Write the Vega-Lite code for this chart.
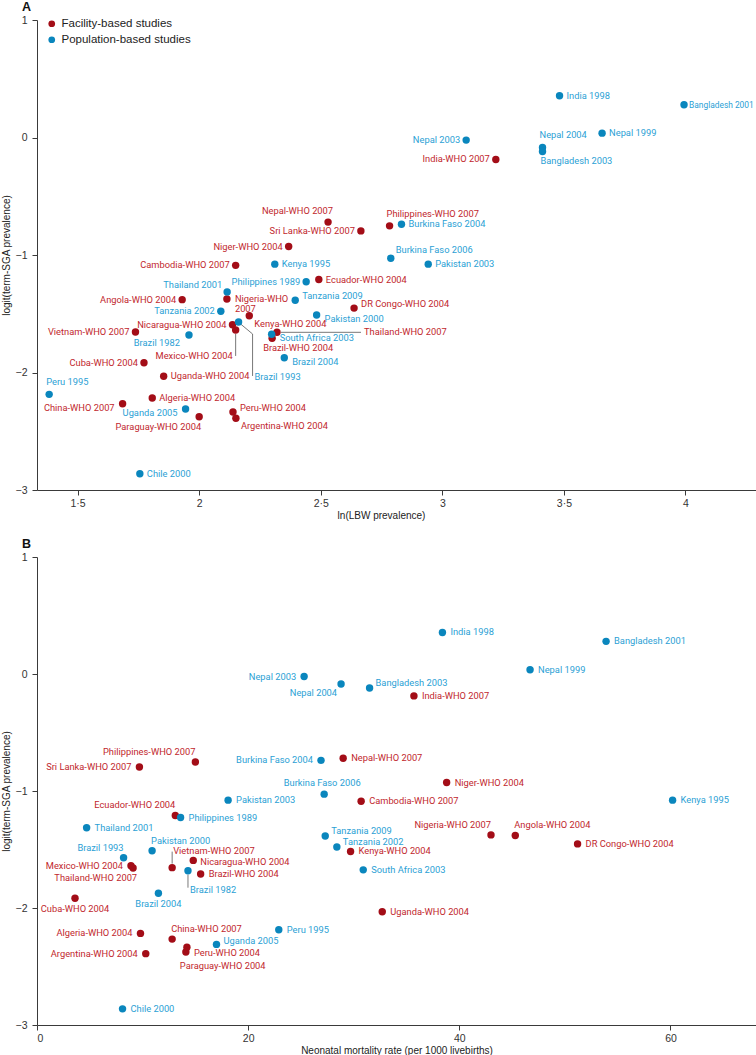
{
  "$schema": "https://vega.github.io/schema/vega-lite/v6.json",
  "padding": {"left": 1, "top": 0, "right": 0, "bottom": 0},
  "background": "white",
  "datasets": {
    "studies": [
      {"name": "Nepal-WHO 2007", "type": "Facility-based studies", "lbw": 2.53, "nmr": 29.0, "sga": -0.72},
      {"name": "Sri Lanka-WHO 2007", "type": "Facility-based studies", "lbw": 2.665, "nmr": 9.7, "sga": -0.795},
      {"name": "Niger-WHO 2004", "type": "Facility-based studies", "lbw": 2.368, "nmr": 38.8, "sga": -0.928},
      {"name": "India-WHO 2007", "type": "Facility-based studies", "lbw": 3.22, "nmr": 35.7, "sga": -0.187},
      {"name": "Philippines-WHO 2007", "type": "Facility-based studies", "lbw": 2.783, "nmr": 15.0, "sga": -0.752},
      {"name": "Cambodia-WHO 2007", "type": "Facility-based studies", "lbw": 2.15, "nmr": 30.7, "sga": -1.088},
      {"name": "Ecuador-WHO 2004", "type": "Facility-based studies", "lbw": 2.492, "nmr": 13.1, "sga": -1.209},
      {"name": "Nigeria-WHO 2007", "type": "Facility-based studies", "lbw": 2.114, "nmr": 43.0, "sga": -1.375},
      {"name": "Angola-WHO 2004", "type": "Facility-based studies", "lbw": 1.93, "nmr": 45.3, "sga": -1.38},
      {"name": "DR Congo-WHO 2004", "type": "Facility-based studies", "lbw": 2.637, "nmr": 51.2, "sga": -1.452},
      {"name": "Kenya-WHO 2004", "type": "Facility-based studies", "lbw": 2.206, "nmr": 29.7, "sga": -1.517},
      {"name": "Nicaragua-WHO 2004", "type": "Facility-based studies", "lbw": 2.137, "nmr": 14.8, "sga": -1.593},
      {"name": "Mexico-WHO 2004", "type": "Facility-based studies", "lbw": 2.15, "nmr": 8.9, "sga": -1.638},
      {"name": "Vietnam-WHO 2007", "type": "Facility-based studies", "lbw": 1.738, "nmr": 12.8, "sga": -1.655},
      {"name": "Thailand-WHO 2007", "type": "Facility-based studies", "lbw": 2.32, "nmr": 9.1, "sga": -1.658},
      {"name": "Brazil-WHO 2004", "type": "Facility-based studies", "lbw": 2.3, "nmr": 15.5, "sga": -1.709},
      {"name": "Cuba-WHO 2004", "type": "Facility-based studies", "lbw": 1.773, "nmr": 3.6, "sga": -1.917},
      {"name": "Uganda-WHO 2004", "type": "Facility-based studies", "lbw": 1.854, "nmr": 32.7, "sga": -2.032},
      {"name": "Algeria-WHO 2004", "type": "Facility-based studies", "lbw": 1.807, "nmr": 9.8, "sga": -2.217},
      {"name": "China-WHO 2007", "type": "Facility-based studies", "lbw": 1.685, "nmr": 12.8, "sga": -2.266},
      {"name": "Paraguay-WHO 2004", "type": "Facility-based studies", "lbw": 2.0, "nmr": 14.1, "sga": -2.376},
      {"name": "Peru-WHO 2004", "type": "Facility-based studies", "lbw": 2.139, "nmr": 14.2, "sga": -2.336},
      {"name": "Argentina-WHO 2004", "type": "Facility-based studies", "lbw": 2.151, "nmr": 10.3, "sga": -2.39},
      {"name": "India 1998", "type": "Population-based studies", "lbw": 3.482, "nmr": 38.4, "sga": 0.355},
      {"name": "Bangladesh 2001", "type": "Population-based studies", "lbw": 3.994, "nmr": 53.9, "sga": 0.279},
      {"name": "Nepal 2003", "type": "Population-based studies", "lbw": 3.098, "nmr": 25.3, "sga": -0.022},
      {"name": "Nepal 2004", "type": "Population-based studies", "lbw": 3.412, "nmr": 28.8, "sga": -0.085},
      {"name": "Bangladesh 2003", "type": "Population-based studies", "lbw": 3.412, "nmr": 31.5, "sga": -0.119},
      {"name": "Nepal 1999", "type": "Population-based studies", "lbw": 3.657, "nmr": 46.7, "sga": 0.037},
      {"name": "Burkina Faso 2004", "type": "Population-based studies", "lbw": 2.832, "nmr": 26.9, "sga": -0.738},
      {"name": "Burkina Faso 2006", "type": "Population-based studies", "lbw": 2.788, "nmr": 27.2, "sga": -1.027},
      {"name": "Pakistan 2003", "type": "Population-based studies", "lbw": 2.942, "nmr": 18.1, "sga": -1.078},
      {"name": "Kenya 1995", "type": "Population-based studies", "lbw": 2.311, "nmr": 60.2, "sga": -1.078},
      {"name": "Philippines 1989", "type": "Population-based studies", "lbw": 2.44, "nmr": 13.6, "sga": -1.227},
      {"name": "Thailand 2001", "type": "Population-based studies", "lbw": 2.115, "nmr": 4.7, "sga": -1.314},
      {"name": "Tanzania 2009", "type": "Population-based studies", "lbw": 2.395, "nmr": 27.3, "sga": -1.385},
      {"name": "Tanzania 2002", "type": "Population-based studies", "lbw": 2.089, "nmr": 28.4, "sga": -1.479},
      {"name": "Pakistan 2000", "type": "Population-based studies", "lbw": 2.483, "nmr": 10.9, "sga": -1.51},
      {"name": "Brazil 1993", "type": "Population-based studies", "lbw": 2.162, "nmr": 8.2, "sga": -1.57},
      {"name": "Brazil 1982", "type": "Population-based studies", "lbw": 1.958, "nmr": 14.3, "sga": -1.681},
      {"name": "South Africa 2003", "type": "Population-based studies", "lbw": 2.298, "nmr": 30.9, "sga": -1.674},
      {"name": "Brazil 2004", "type": "Population-based studies", "lbw": 2.35, "nmr": 11.5, "sga": -1.874},
      {"name": "Peru 1995", "type": "Population-based studies", "lbw": 1.383, "nmr": 22.9, "sga": -2.186},
      {"name": "Uganda 2005", "type": "Population-based studies", "lbw": 1.944, "nmr": 17.0, "sga": -2.311},
      {"name": "Chile 2000", "type": "Population-based studies", "lbw": 1.756, "nmr": 8.1, "sga": -2.862}
    ]
  },
  "config": {
    "view": {"stroke": null},
    "font": "Liberation Sans",
    "axis": {"grid": false, "domainColor": "#3a3a3a", "domainWidth": 1, "tickColor": "#3a3a3a", "tickSize": 5, "labelFont": "Liberation Sans", "labelFontSize": 10.5, "labelColor": "#333", "titleFont": "Liberation Sans", "titleFontSize": 10, "titleFontWeight": "normal", "titleColor": "#222", "labelPadding": 3},
    "axisY": {"labelPadding": 5, "titlePadding": 4},
    "axisX": {"titlePadding": 2},
    "text": {"font": "Roboto", "fontSize": 9.3, "baseline": "middle"},
    "title": {"anchor": "start", "frame": "group", "fontSize": 12.5, "fontWeight": "bold", "font": "Liberation Sans", "color": "#111", "offset": 2, "baseline": "alphabetic", "dx": -15}
  },
  "spacing": 67,
  "bounds": "flush",
  "vconcat": [
    {
      "width": 719,
      "height": 470,
      "title": {"text": "A"},
      "data": {"name": "studies"},
      "encoding": {
        "x": {"field": "lbw", "type": "quantitative", "scale": {"domain": [1.333, 4.29], "nice": false, "zero": false}, "axis": {"title": "ln(LBW prevalence)", "titleX": 344, "values": [1.5, 2, 2.5, 3, 3.5, 4], "format": ".1~f", "labelExpr": "replace(datum.label, '.', '·')"}},
        "y": {"field": "sga", "type": "quantitative", "scale": {"domain": [-3, 1], "nice": false, "zero": false}, "axis": {"title": "logit(term-SGA prevalence)", "values": [-3, -2, -1, 0, 1]}}
      },
      "layer": [
        {"transform": [{"filter": {"field": "name", "equal": "Mexico-WHO 2004"}}], "mark": {"type": "rule", "yOffset": 4, "y2Offset": 26, "color": "#555", "strokeWidth": 0.8}, "encoding": {"x2": {"field": "lbw"}, "y2": {"field": "sga"}}},
        {"transform": [{"filter": {"field": "name", "equal": "Brazil 1993"}}], "mark": {"type": "rule", "xOffset": 2, "yOffset": 2, "x2Offset": 14, "y2Offset": 12, "color": "#555", "strokeWidth": 0.8}, "encoding": {"x2": {"field": "lbw"}, "y2": {"field": "sga"}}},
        {"transform": [{"filter": {"field": "name", "equal": "Brazil 1993"}}], "mark": {"type": "rule", "xOffset": 14, "yOffset": 12, "x2Offset": 14, "y2Offset": 54, "color": "#555", "strokeWidth": 0.8}, "encoding": {"x2": {"field": "lbw"}, "y2": {"field": "sga"}}},
        {"transform": [{"filter": {"field": "name", "equal": "Thailand-WHO 2007"}}], "mark": {"type": "rule", "xOffset": 4, "x2Offset": 84, "color": "#555", "strokeWidth": 0.8}, "encoding": {"x2": {"field": "lbw"}, "y2": {"field": "sga"}}},
        {
          "mark": {"type": "circle", "size": 55, "opacity": 1},
          "encoding": {
            "color": {"field": "type", "type": "nominal", "scale": {"domain": ["Facility-based studies", "Population-based studies"], "range": ["#a30d17", "#0a86bd"]},
              "legend": {"title": null, "orient": "none", "legendX": 9, "legendY": -2, "padding": 0, "labelFont": "Liberation Sans", "labelFontSize": 11.5, "labelColor": "#222", "symbolSize": 45, "symbolType": "circle", "rowPadding": 3, "labelOffset": 4}}
          }
        },
        {"transform": [{"filter": {"field": "name", "oneOf": ["India 1998", "Nepal 1999", "Burkina Faso 2004", "Pakistan 2003", "Kenya 1995", "Ecuador-WHO 2004", "Uganda-WHO 2004", "Algeria-WHO 2004", "Chile 2000"]}}], "mark": {"type": "text", "align": "left", "dx": 7, "dy": 0}, "encoding": {"text": {"field": "name"}, "color": {"condition": {"test": "datum.type === 'Facility-based studies'", "value": "#c1272d"}, "value": "#2b9fd5"}}},
        {"transform": [{"filter": {"field": "name", "oneOf": ["Bangladesh 2001"]}}], "mark": {"type": "text", "align": "left", "dx": 5, "dy": 0, "fontSize": 8.4}, "encoding": {"text": {"field": "name"}, "color": {"condition": {"test": "datum.type === 'Facility-based studies'", "value": "#c1272d"}, "value": "#2b9fd5"}}},
        {"transform": [{"filter": {"field": "name", "oneOf": ["Tanzania 2009", "Peru-WHO 2004", "DR Congo-WHO 2004"]}}], "mark": {"type": "text", "align": "left", "dx": 7, "dy": -4}, "encoding": {"text": {"field": "name"}, "color": {"condition": {"test": "datum.type === 'Facility-based studies'", "value": "#c1272d"}, "value": "#2b9fd5"}}},
        {"transform": [{"filter": {"field": "name", "oneOf": ["Pakistan 2000", "South Africa 2003", "Brazil 2004"]}}], "mark": {"type": "text", "align": "left", "dx": 8, "dy": 4}, "encoding": {"text": {"field": "name"}, "color": {"condition": {"test": "datum.type === 'Facility-based studies'", "value": "#c1272d"}, "value": "#2b9fd5"}}},
        {"transform": [{"filter": {"field": "name", "oneOf": ["Kenya-WHO 2004", "Argentina-WHO 2004"]}}], "mark": {"type": "text", "align": "left", "dx": 5, "dy": 8}, "encoding": {"text": {"field": "name"}, "color": {"condition": {"test": "datum.type === 'Facility-based studies'", "value": "#c1272d"}, "value": "#2b9fd5"}}},
        {"transform": [{"filter": {"field": "name", "oneOf": ["Nepal 2003", "India-WHO 2007", "Sri Lanka-WHO 2007", "Niger-WHO 2004", "Cambodia-WHO 2007", "Philippines 1989", "Angola-WHO 2004", "Tanzania 2002", "Nicaragua-WHO 2004", "Vietnam-WHO 2007", "Cuba-WHO 2004"]}}], "mark": {"type": "text", "align": "right", "dx": -6, "dy": 0}, "encoding": {"text": {"field": "name"}, "color": {"condition": {"test": "datum.type === 'Facility-based studies'", "value": "#c1272d"}, "value": "#2b9fd5"}}},
        {"transform": [{"filter": {"field": "name", "oneOf": ["China-WHO 2007", "Uganda 2005"]}}], "mark": {"type": "text", "align": "right", "dx": -8, "dy": 4}, "encoding": {"text": {"field": "name"}, "color": {"condition": {"test": "datum.type === 'Facility-based studies'", "value": "#c1272d"}, "value": "#2b9fd5"}}},
        {"transform": [{"filter": {"field": "name", "oneOf": ["Brazil 1982"]}}], "mark": {"type": "text", "align": "right", "dx": -9, "dy": 8}, "encoding": {"text": {"field": "name"}, "color": {"condition": {"test": "datum.type === 'Facility-based studies'", "value": "#c1272d"}, "value": "#2b9fd5"}}},
        {"transform": [{"filter": {"field": "name", "oneOf": ["Thailand 2001"]}}], "mark": {"type": "text", "align": "right", "dx": -5, "dy": -7}, "encoding": {"text": {"field": "name"}, "color": {"condition": {"test": "datum.type === 'Facility-based studies'", "value": "#c1272d"}, "value": "#2b9fd5"}}},
        {"transform": [{"filter": {"field": "name", "oneOf": ["Philippines-WHO 2007", "Nepal 2004", "Peru 1995"]}}], "mark": {"type": "text", "align": "left", "dx": -3, "dy": -12}, "encoding": {"text": {"field": "name"}, "color": {"condition": {"test": "datum.type === 'Facility-based studies'", "value": "#c1272d"}, "value": "#2b9fd5"}}},
        {"transform": [{"filter": {"field": "name", "oneOf": ["Burkina Faso 2006"]}}], "mark": {"type": "text", "align": "left", "dx": 5, "dy": -8}, "encoding": {"text": {"field": "name"}, "color": {"condition": {"test": "datum.type === 'Facility-based studies'", "value": "#c1272d"}, "value": "#2b9fd5"}}},
        {"transform": [{"filter": {"field": "name", "oneOf": ["Nepal-WHO 2007"]}}], "mark": {"type": "text", "align": "right", "dx": 5, "dy": -11}, "encoding": {"text": {"field": "name"}, "color": {"condition": {"test": "datum.type === 'Facility-based studies'", "value": "#c1272d"}, "value": "#2b9fd5"}}},
        {"transform": [{"filter": {"field": "name", "oneOf": ["Bangladesh 2003"]}}], "mark": {"type": "text", "align": "left", "dx": -2, "dy": 10}, "encoding": {"text": {"field": "name"}, "color": {"condition": {"test": "datum.type === 'Facility-based studies'", "value": "#c1272d"}, "value": "#2b9fd5"}}},
        {"transform": [{"filter": {"field": "name", "oneOf": ["Brazil-WHO 2004"]}}], "mark": {"type": "text", "align": "left", "dx": -9, "dy": 10}, "encoding": {"text": {"field": "name"}, "color": {"condition": {"test": "datum.type === 'Facility-based studies'", "value": "#c1272d"}, "value": "#2b9fd5"}}},
        {"transform": [{"filter": {"field": "name", "oneOf": ["Paraguay-WHO 2004"]}}], "mark": {"type": "text", "align": "right", "dx": 2, "dy": 10}, "encoding": {"text": {"field": "name"}, "color": {"condition": {"test": "datum.type === 'Facility-based studies'", "value": "#c1272d"}, "value": "#2b9fd5"}}},
        {"transform": [{"filter": {"field": "name", "oneOf": ["Nigeria-WHO 2007"]}}], "mark": {"type": "text", "align": "left", "dx": 8, "dy": 0, "lineBreak": " ", "lineHeight": 10}, "encoding": {"text": {"field": "name"}, "color": {"condition": {"test": "datum.type === 'Facility-based studies'", "value": "#c1272d"}, "value": "#2b9fd5"}}},
        {"transform": [{"filter": {"field": "name", "oneOf": ["Mexico-WHO 2004"]}}], "mark": {"type": "text", "align": "right", "dx": -3, "dy": 26}, "encoding": {"text": {"field": "name"}, "color": {"condition": {"test": "datum.type === 'Facility-based studies'", "value": "#c1272d"}, "value": "#2b9fd5"}}},
        {"transform": [{"filter": {"field": "name", "oneOf": ["Brazil 1993"]}}], "mark": {"type": "text", "align": "left", "dx": 16, "dy": 55}, "encoding": {"text": {"field": "name"}, "color": {"condition": {"test": "datum.type === 'Facility-based studies'", "value": "#c1272d"}, "value": "#2b9fd5"}}},
        {"transform": [{"filter": {"field": "name", "oneOf": ["Thailand-WHO 2007"]}}], "mark": {"type": "text", "align": "left", "dx": 87, "dy": 0}, "encoding": {"text": {"field": "name"}, "color": {"condition": {"test": "datum.type === 'Facility-based studies'", "value": "#c1272d"}, "value": "#2b9fd5"}}}
      ]
    },
    {
      "width": 719,
      "height": 468,
      "title": {"text": "B"},
      "data": {"name": "studies"},
      "encoding": {
        "x": {"field": "nmr", "type": "quantitative", "scale": {"domain": [0, 68.1], "nice": false, "zero": false}, "axis": {"title": "Neonatal mortality rate (per 1000 livebirths)", "values": [0, 20, 40, 60]}},
        "y": {"field": "sga", "type": "quantitative", "scale": {"domain": [-3, 1], "nice": false, "zero": false}, "axis": {"title": "logit(term-SGA prevalence)", "values": [-3, -2, -1, 0, 1]}}
      },
      "layer": [
        {"transform": [{"filter": {"field": "name", "equal": "Vietnam-WHO 2007"}}], "mark": {"type": "rule", "yOffset": -4, "y2Offset": -16, "color": "#555", "strokeWidth": 0.8}, "encoding": {"x2": {"field": "nmr"}, "y2": {"field": "sga"}}},
        {"transform": [{"filter": {"field": "name", "equal": "Brazil 1982"}}], "mark": {"type": "rule", "yOffset": 4, "y2Offset": 17, "color": "#555", "strokeWidth": 0.8}, "encoding": {"x2": {"field": "nmr"}, "y2": {"field": "sga"}}},
        {
          "mark": {"type": "circle", "size": 55, "opacity": 1},
          "encoding": {
            "color": {"field": "type", "type": "nominal", "scale": {"domain": ["Facility-based studies", "Population-based studies"], "range": ["#a30d17", "#0a86bd"]}, "legend": null}
          }
        },
        {"transform": [{"filter": {"field": "name", "oneOf": ["India 1998", "Bangladesh 2001", "Nepal 1999", "India-WHO 2007", "Niger-WHO 2004", "Nepal-WHO 2007", "Kenya 1995", "DR Congo-WHO 2004", "Uganda-WHO 2004", "Pakistan 2003", "Philippines 1989", "Thailand 2001", "Kenya-WHO 2004", "South Africa 2003", "Brazil-WHO 2004", "Peru 1995", "Chile 2000", "Cambodia-WHO 2007"]}}], "mark": {"type": "text", "align": "left", "dx": 8, "dy": 0}, "encoding": {"text": {"field": "name"}, "color": {"condition": {"test": "datum.type === 'Facility-based studies'", "value": "#c1272d"}, "value": "#2b9fd5"}}},
        {"transform": [{"filter": {"field": "name", "oneOf": ["Uganda 2005"]}}], "mark": {"type": "text", "align": "left", "dx": 7, "dy": -3}, "encoding": {"text": {"field": "name"}, "color": {"condition": {"test": "datum.type === 'Facility-based studies'", "value": "#c1272d"}, "value": "#2b9fd5"}}},
        {"transform": [{"filter": {"field": "name", "oneOf": ["Bangladesh 2003", "Tanzania 2009", "Tanzania 2002"]}}], "mark": {"type": "text", "align": "left", "dx": 6, "dy": -5}, "encoding": {"text": {"field": "name"}, "color": {"condition": {"test": "datum.type === 'Facility-based studies'", "value": "#c1272d"}, "value": "#2b9fd5"}}},
        {"transform": [{"filter": {"field": "name", "oneOf": ["Nicaragua-WHO 2004"]}}], "mark": {"type": "text", "align": "left", "dx": 7, "dy": 2}, "encoding": {"text": {"field": "name"}, "color": {"condition": {"test": "datum.type === 'Facility-based studies'", "value": "#c1272d"}, "value": "#2b9fd5"}}},
        {"transform": [{"filter": {"field": "name", "oneOf": ["Peru-WHO 2004"]}}], "mark": {"type": "text", "align": "left", "dx": 7, "dy": 6}, "encoding": {"text": {"field": "name"}, "color": {"condition": {"test": "datum.type === 'Facility-based studies'", "value": "#c1272d"}, "value": "#2b9fd5"}}},
        {"transform": [{"filter": {"field": "name", "oneOf": ["Nepal 2003", "Sri Lanka-WHO 2007", "Burkina Faso 2004", "Algeria-WHO 2004", "Argentina-WHO 2004", "Mexico-WHO 2004"]}}], "mark": {"type": "text", "align": "right", "dx": -8, "dy": 0}, "encoding": {"text": {"field": "name"}, "color": {"condition": {"test": "datum.type === 'Facility-based studies'", "value": "#c1272d"}, "value": "#2b9fd5"}}},
        {"transform": [{"filter": {"field": "name", "oneOf": ["Pakistan 2000", "Angola-WHO 2004", "China-WHO 2007"]}}], "mark": {"type": "text", "align": "left", "dx": -1, "dy": -10}, "encoding": {"text": {"field": "name"}, "color": {"condition": {"test": "datum.type === 'Facility-based studies'", "value": "#c1272d"}, "value": "#2b9fd5"}}},
        {"transform": [{"filter": {"field": "name", "oneOf": ["Philippines-WHO 2007", "Ecuador-WHO 2004", "Brazil 1993", "Nigeria-WHO 2007"]}}], "mark": {"type": "text", "align": "right", "dx": 0, "dy": -10}, "encoding": {"text": {"field": "name"}, "color": {"condition": {"test": "datum.type === 'Facility-based studies'", "value": "#c1272d"}, "value": "#2b9fd5"}}},
        {"transform": [{"filter": {"field": "name", "oneOf": ["Burkina Faso 2006"]}}], "mark": {"type": "text", "align": "center", "dx": -2, "dy": -11}, "encoding": {"text": {"field": "name"}, "color": {"condition": {"test": "datum.type === 'Facility-based studies'", "value": "#c1272d"}, "value": "#2b9fd5"}}},
        {"transform": [{"filter": {"field": "name", "oneOf": ["Nepal 2004"]}}], "mark": {"type": "text", "align": "right", "dx": -4, "dy": 9}, "encoding": {"text": {"field": "name"}, "color": {"condition": {"test": "datum.type === 'Facility-based studies'", "value": "#c1272d"}, "value": "#2b9fd5"}}},
        {"transform": [{"filter": {"field": "name", "oneOf": ["Thailand-WHO 2007"]}}], "mark": {"type": "text", "align": "right", "dx": 4, "dy": 10}, "encoding": {"text": {"field": "name"}, "color": {"condition": {"test": "datum.type === 'Facility-based studies'", "value": "#c1272d"}, "value": "#2b9fd5"}}},
        {"transform": [{"filter": {"field": "name", "oneOf": ["Brazil 2004", "Cuba-WHO 2004"]}}], "mark": {"type": "text", "align": "center", "dx": 0, "dy": 11}, "encoding": {"text": {"field": "name"}, "color": {"condition": {"test": "datum.type === 'Facility-based studies'", "value": "#c1272d"}, "value": "#2b9fd5"}}},
        {"transform": [{"filter": {"field": "name", "oneOf": ["Paraguay-WHO 2004"]}}], "mark": {"type": "text", "align": "left", "dx": -6, "dy": 14}, "encoding": {"text": {"field": "name"}, "color": {"condition": {"test": "datum.type === 'Facility-based studies'", "value": "#c1272d"}, "value": "#2b9fd5"}}},
        {"transform": [{"filter": {"field": "name", "oneOf": ["Vietnam-WHO 2007"]}}], "mark": {"type": "text", "align": "left", "dx": 1, "dy": -17}, "encoding": {"text": {"field": "name"}, "color": {"condition": {"test": "datum.type === 'Facility-based studies'", "value": "#c1272d"}, "value": "#2b9fd5"}}},
        {"transform": [{"filter": {"field": "name", "oneOf": ["Brazil 1982"]}}], "mark": {"type": "text", "align": "left", "dx": 2, "dy": 19}, "encoding": {"text": {"field": "name"}, "color": {"condition": {"test": "datum.type === 'Facility-based studies'", "value": "#c1272d"}, "value": "#2b9fd5"}}}
      ]
    }
  ]
}
